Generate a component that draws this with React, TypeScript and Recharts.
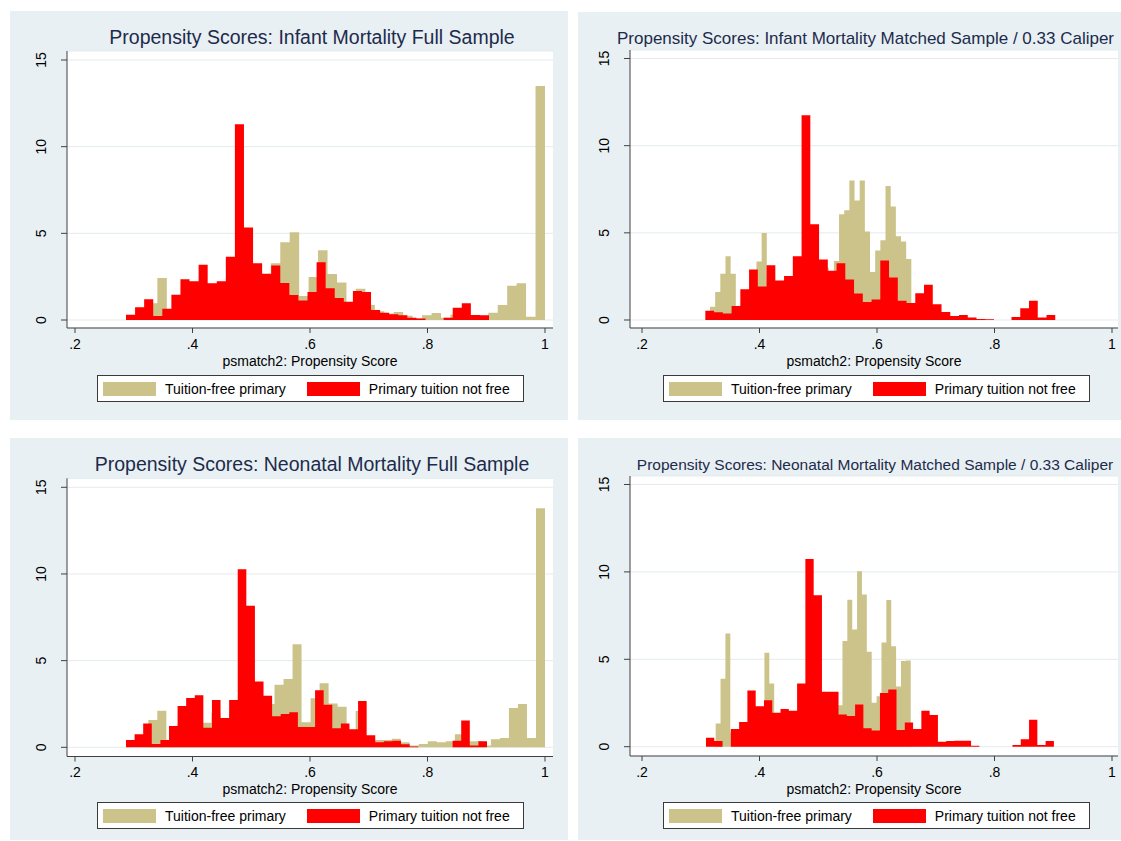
import React from 'react';
import { ComposedChart, Area, XAxis, YAxis, CartesianGrid, Legend } from 'recharts';

const FONT = '"Liberation Sans", Arial, Helvetica, sans-serif';
const TAN = '#ccc38a';
const RED = '#ff0000';
const PANEL_BG = '#e9f0f3';
const GRID = '#e3ebee';
const AXIS = '#404040';
const TITLE = '#1d2b4c';

const xTicks = [0.2, 0.4, 0.6, 0.8, 1];
const yTicks = [0, 5, 10, 15];
const xAxisTitle = 'psmatch2: Propensity Score';
const tanName = 'Tuition-free primary';
const redName = 'Primary tuition not free';
const legendOrder = [tanName, redName];

// ---------- Panel 1: Infant Mortality Full Sample ----------
const p1TanStart = 0.3241;
const p1TanWidth = 0.016092;
const p1Tan = [0.96, 2.42, 0.5, 1.2, 1.8, 2.0, 1.9, 1.8, 1.9, 2.5, 2.5, 2.5, 2.4, 3.27, 4.48, 5.06, 1.38, 2.48, 4.02, 2.65, 2.17, 0.9, 1.81, 0.87, 0.5, 0.38, 0.46, 0.25, 0.1, 0.27, 0.4, 0.13, 0.3, 0.2, 0.1, 0.2, 0.42, 0.87, 1.98, 2.12, 0.19, 13.5];
const p1RedStart = 0.2868;
const p1RedWidth = 0.015448;
const p1Red = [0.31, 0.73, 1.19, 0.23, 0.65, 1.46, 2.35, 2.23, 3.19, 2.12, 2.23, 3.65, 11.29, 5.33, 3.27, 2.67, 3.15, 2.13, 1.44, 1.12, 1.62, 3.33, 1.83, 1.27, 1.06, 1.67, 1.62, 0.58, 0.42, 0.33, 0.27, 0.13, 0.08, 0, 0, 0.13, 0.71, 0.96, 0.29, 0.27];

// ---------- Panel 2: Infant Mortality Matched Sample ----------
const p2TanStart = 0.31574;
const p2TanWidth = 0.008787;
const p2Tan = [0.76, 1.6, 2.65, 3.66, 2.65, 0.6, 1.2, 1.5, 2.0, 3.35, 4.99, 2.5, 2.0, 1.8, 2.0, 2.2, 2.5, 3.0, 3.0, 3.0, 3.0, 3.0, 3.0, 2.5, 3.38, 6.06, 6.29, 8.0, 6.86, 8.0, 5.07, 2.76, 3.98, 4.57, 7.68, 6.51, 4.8, 4.5, 3.5];
const p2RedStart = 0.3078;
const p2RedWidth = 0.01489;
const p2Red = [0.53, 0.44, 0.38, 0.8, 1.77, 2.9, 1.92, 3.14, 2.27, 2.53, 3.66, 11.75, 5.49, 3.47, 2.82, 3.26, 2.32, 1.52, 1.03, 1.18, 3.41, 2.44, 1.1, 0.97, 1.54, 2.02, 0.9, 0.46, 0.23, 0.29, 0.15, 0.06, 0.05, 0, 0, 0.17, 0.67, 1.1, 0.15, 0.29];

// ---------- Panel 3: Neonatal Mortality Full Sample ----------
const p3TanStart = 0.32477;
const p3TanWidth = 0.015346;
const p3Tan = [1.58, 2.11, 0.35, 1.0, 2.0, 2.2, 1.42, 2.0, 1.4, 2.0, 2.5, 2.5, 2.8, 2.5, 3.61, 3.94, 5.94, 1.44, 2.83, 3.69, 2.52, 2.34, 0.9, 2.09, 0.5, 0.42, 0.42, 0.5, 0.29, 0.1, 0.19, 0.35, 0.29, 0.35, 0.75, 0.35, 0.35, 0.1, 0.46, 0.54, 2.27, 2.5, 0.54, 13.79];
const p3RedStart = 0.2868;
const p3RedWidth = 0.01463;
const p3Red = [0.42, 0.75, 1.38, 0.19, 0.42, 1.23, 2.38, 2.84, 3.0, 1.13, 2.73, 1.69, 2.73, 10.27, 8.17, 3.79, 2.98, 1.79, 1.92, 2.02, 1.17, 1.17, 3.29, 2.46, 1.1, 1.38, 1.04, 2.67, 0.69, 0.29, 0.35, 0.38, 0.17, 0.04, 0, 0, 0, 0, 0.38, 1.54, 0.1, 0.35];

// ---------- Panel 4: Neonatal Mortality Matched Sample ----------
const p4TanStart = 0.32539;
const p4TanWidth = 0.0083;
const p4Tan = [1.33, 3.89, 6.47, 0.8, 0.7, 1.0, 1.2, 2.0, 2.0, 2.0, 5.37, 3.62, 1.5, 1.6, 1.6, 1.5, 1.8, 2.5, 2.8, 3.0, 3.0, 3.0, 2.5, 2.5, 2.5, 2.37, 6.05, 8.41, 6.7, 10.04, 8.71, 5.43, 2.51, 2.89, 5.96, 8.39, 5.75, 3.44, 4.9, 4.93];
const p4RedStart = 0.3089;
const p4RedWidth = 0.0141;
const p4Red = [0.51, 0.32, 0, 1.01, 1.42, 3.21, 2.32, 2.66, 1.94, 2.16, 2.05, 3.61, 10.74, 8.67, 3.15, 3.15, 1.84, 1.75, 2.41, 1.06, 0.93, 3.07, 3.27, 0.95, 1.39, 1.01, 2.05, 1.82, 0.29, 0.32, 0.34, 0.34, 0.06, 0, 0, 0, 0, 0.1, 0.42, 1.54, 0.1, 0.32];

type Bins = { start: number; width: number; values: number[] };

const r6 = (v: number) => Math.round(v * 1e6) / 1e6;

function valueAt(x: number, b: Bins): number | null {
  const n = b.values.length;
  const end = b.start + n * b.width;
  if (x < b.start - 1e-7 || x > end + 1e-7) return null;
  if (x >= end - 1e-7) return 0;
  const k = Math.min(n - 1, Math.max(0, Math.floor((x - b.start) / b.width + 1e-6)));
  return b.values[k];
}

// Histogram table: one row per bin edge of either series, drawn as step areas.
function buildRows(tan: Bins, red: Bins) {
  const edges = new Set<number>();
  for (let i = 0; i <= tan.values.length; i++) edges.add(r6(tan.start + i * tan.width));
  for (let i = 0; i <= red.values.length; i++) edges.add(r6(red.start + i * red.width));
  const xs = Array.from(edges).sort((a, b) => a - b);
  return xs.map((x) => ({ x, tan: valueAt(x, tan), red: valueAt(x, red) }));
}

const fmtX = (v: number) => (v === 1 ? '1' : String(v).replace(/^0/, ''));

const RotTick = (props: any) => {
  const { x, y, payload } = props;
  return (
    <text
      x={x}
      y={y}
      transform={`rotate(-90, ${x}, ${y})`}
      textAnchor="middle"
      fill="#000"
      fontSize={14}
      fontFamily={FONT}
    >
      {payload.value}
    </text>
  );
};

const renderLegend = (props: any) => {
  const raw = ((props && props.payload) || []).slice();
  const items = raw.sort((a: any, b: any) => legendOrder.indexOf(a.value) - legendOrder.indexOf(b.value));
  return (
    <div
      style={{
        width: 427,
        height: 27,
        boxSizing: 'border-box',
        border: '1px solid #3a3a3a',
        background: '#ffffff',
        display: 'flex',
        alignItems: 'center',
        fontFamily: FONT,
        fontSize: 14,
        color: '#000',
        whiteSpace: 'nowrap',
      }}
    >
      {items.map((it: any, i: number) => (
        <React.Fragment key={i}>
          <span
            style={{
              display: 'inline-block',
              width: 53,
              height: 14,
              background: it.color,
              marginLeft: i === 0 ? 5 : 21,
            }}
          />
          <span style={{ marginLeft: 9 }}>{it.value}</span>
        </React.Fragment>
      ))}
    </div>
  );
};

type PanelProps = {
  left: number;
  top: number;
  w: number;
  h: number;
  title: string;
  titleSize: number;
  titleX: number;
  titleY: number;
  plot: { l: number; t: number; r: number; b: number };
  xDomain: [number, number];
  yDomain: [number, number];
  rows: any[];
  legendX: number;
  legendY: number;
};

const Panel = (p: PanelProps) => (
  <div style={{ position: 'absolute', left: p.left, top: p.top, width: p.w, height: p.h, background: PANEL_BG }}>
    <ComposedChart
      width={p.w}
      height={p.h}
      data={p.rows}
      margin={{ top: p.plot.t, right: p.w - p.plot.r, bottom: 0, left: 0 }}
    >
      <CartesianGrid vertical={false} stroke={GRID} fill="#ffffff" />
      <XAxis
        type="number"
        dataKey="x"
        domain={p.xDomain}
        allowDataOverflow
        ticks={xTicks}
        interval={0}
        tickFormatter={fmtX}
        height={p.h - p.plot.b}
        stroke={AXIS}
        tickSize={5}
        tickMargin={6}
        tick={{ fill: '#000', fontSize: 14, fontFamily: FONT }}
        label={{ value: xAxisTitle, position: 'insideTop', offset: 28, fill: '#000', fontSize: 14, fontFamily: FONT }}
      />
      <YAxis
        type="number"
        domain={p.yDomain}
        allowDataOverflow
        ticks={yTicks}
        interval={0}
        width={p.plot.l}
        stroke={AXIS}
        tickSize={6}
        tickMargin={15}
        tick={RotTick}
      />
      <Area
        type="stepAfter"
        dataKey="tan"
        name={tanName}
        fill={TAN}
        fillOpacity={1}
        stroke="none"
        baseValue={0}
        dot={false}
        activeDot={false}
        legendType="rect"
        isAnimationActive={false}
      />
      <Area
        type="stepAfter"
        dataKey="red"
        name={redName}
        fill={RED}
        fillOpacity={1}
        stroke="none"
        baseValue={0}
        dot={false}
        activeDot={false}
        legendType="rect"
        isAnimationActive={false}
      />
      <Legend
        verticalAlign="middle"
        align="center"
        layout="horizontal"
        content={renderLegend}
        wrapperStyle={{ left: p.legendX, top: p.legendY, width: 427, height: 27 }}
      />
    </ComposedChart>
    <div
      style={{
        position: 'absolute',
        left: p.titleX,
        top: p.titleY,
        transform: 'translate(-50%, -50%)',
        fontFamily: FONT,
        fontSize: p.titleSize,
        color: TITLE,
        whiteSpace: 'nowrap',
        lineHeight: 1,
      }}
    >
      {p.title}
    </div>
  </div>
);

const rows1 = buildRows({ start: p1TanStart, width: p1TanWidth, values: p1Tan }, { start: p1RedStart, width: p1RedWidth, values: p1Red });
const rows2 = buildRows({ start: p2TanStart, width: p2TanWidth, values: p2Tan }, { start: p2RedStart, width: p2RedWidth, values: p2Red });
const rows3 = buildRows({ start: p3TanStart, width: p3TanWidth, values: p3Tan }, { start: p3RedStart, width: p3RedWidth, values: p3Red });
const rows4 = buildRows({ start: p4TanStart, width: p4TanWidth, values: p4Tan }, { start: p4RedStart, width: p4RedWidth, values: p4Red });

export default function App() {
  return (
    <div style={{ position: 'absolute', left: 0, top: 0, width: 1121, height: 841, background: '#ffffff', overflow: 'hidden' }}>
      <Panel
        left={10}
        top={11}
        w={558}
        h={409}
        title="Propensity Scores: Infant Mortality Full Sample"
        titleSize={19.5}
        titleX={302}
        titleY={27}
        plot={{ l: 57, t: 40, r: 543, b: 317 }}
        xDomain={[0.18638, 1.01362]}
        yDomain={[-0.4615, 15.519]}
        rows={rows1}
        legendX={87}
        legendY={364}
      />
      <Panel
        left={578}
        top={12}
        w={543}
        h={408}
        title="Propensity Scores: Infant Mortality Matched Sample / 0.33 Caliper"
        titleSize={17}
        titleX={287.5}
        titleY={26}
        plot={{ l: 52, t: 38, r: 540, b: 316 }}
        xDomain={[0.17957, 1.01021]}
        yDomain={[-0.4589, 15.4876]}
        rows={rows2}
        legendX={85}
        legendY={363}
      />
      <Panel
        left={10}
        top={438}
        w={558}
        h={402}
        title="Propensity Scores: Neonatal Mortality Full Sample"
        titleSize={19.5}
        titleX={302}
        titleY={27.3}
        plot={{ l: 57, t: 40.3, r: 543, b: 318.5 }}
        xDomain={[0.18638, 1.01362]}
        yDomain={[-0.5308, 15.519]}
        rows={rows3}
        legendX={87}
        legendY={364}
      />
      <Panel
        left={578}
        top={438}
        w={543}
        h={402}
        title="Propensity Scores: Neonatal Mortality Matched Sample / 0.33 Caliper"
        titleSize={15.5}
        titleX={297}
        titleY={27}
        plot={{ l: 52, t: 38, r: 540, b: 318 }}
        xDomain={[0.17957, 1.01021]}
        yDomain={[-0.532, 15.486]}
        rows={rows4}
        legendX={85}
        legendY={364}
      />
    </div>
  );
}
